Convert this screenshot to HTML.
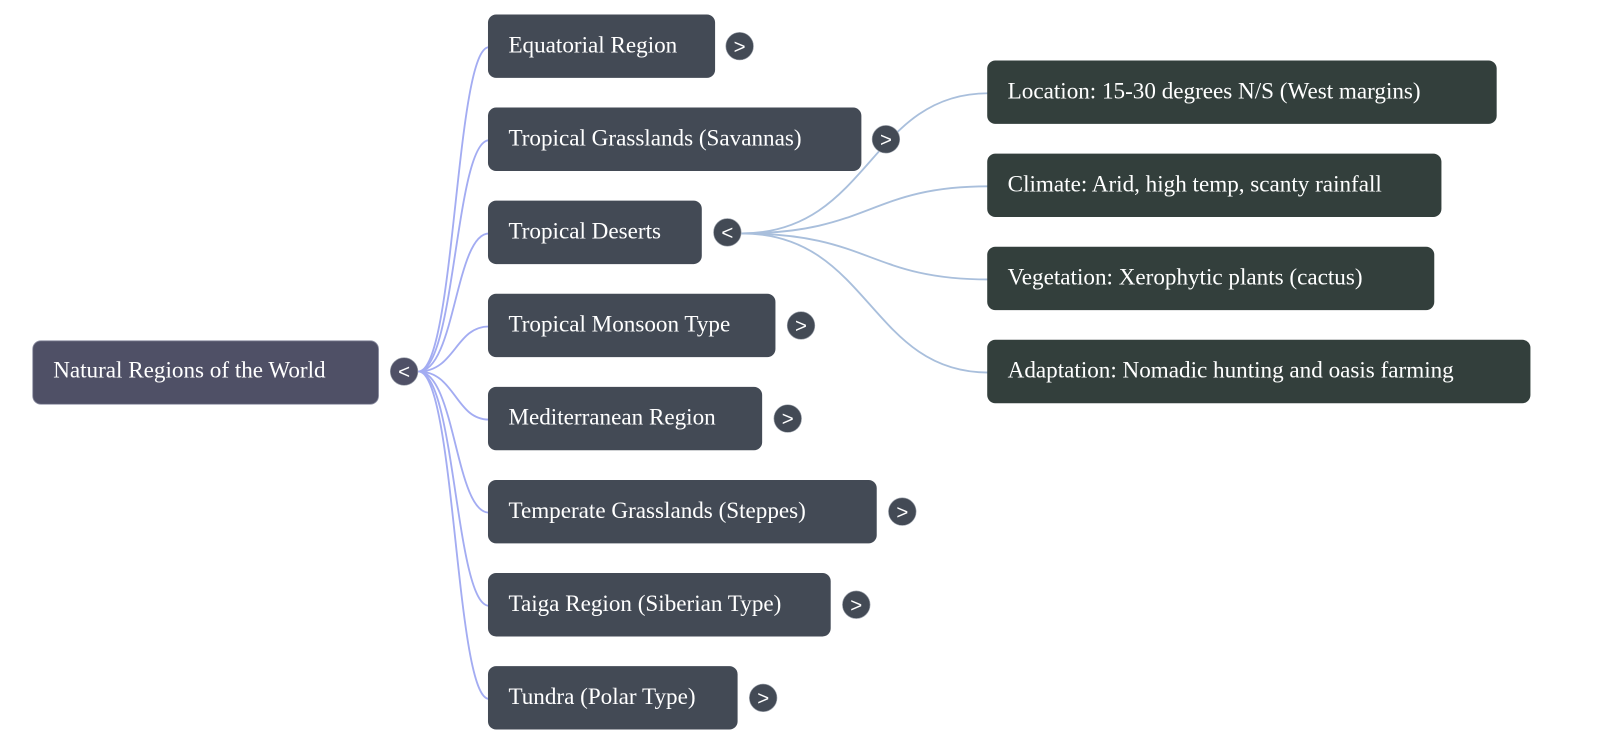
<!DOCTYPE html>
<html><head><meta charset="utf-8"><style>
html,body{margin:0;padding:0;background:#fff;}
svg{display:block}
text{font-family:"Liberation Serif","Times New Roman",serif;font-size:22.6px;fill:#fff}
.t{font-family:"Liberation Sans",sans-serif;font-size:20px;text-anchor:middle}
</style></head><body>
<svg width="1600" height="743" viewBox="0 0 1564 726" xmlns="http://www.w3.org/2000/svg">
<g fill="none" stroke="#a3acf2" stroke-width="1.8">
<path d="M409 363 C445 363 445 46 478 46"/>
<path d="M409 363 C445 363 445 137 478 137"/>
<path d="M409 363 C445 363 445 228 478 228"/>
<path d="M409 363 C445 363 445 319 478 319"/>
<path d="M409 363 C445 363 445 410 478 410"/>
<path d="M409 363 C445 363 445 501 478 501"/>
<path d="M409 363 C445 363 445 592 478 592"/>
<path d="M409 363 C445 363 445 683 478 683"/>
</g>
<g fill="none" stroke="#a9bfdc" stroke-width="1.8">
<path d="M725 228 C850 228 850 91 966 91"/>
<path d="M725 228 C850 228 850 182 966 182"/>
<path d="M725 228 C850 228 850 273 966 273"/>
<path d="M725 228 C850 228 850 364 966 364"/>
</g>
<rect x="32" y="333" width="338" height="62" rx="8" fill="#4f5066" stroke="#8a8ca0" stroke-width="0.8"/>
<text x="52" y="369">Natural Regions of the World</text>
<g fill="#434a55">
<rect x="477" y="14" width="222" height="62" rx="8"/>
<rect x="477" y="105" width="365" height="62" rx="8"/>
<rect x="477" y="196" width="209" height="62" rx="8"/>
<rect x="477" y="287" width="281" height="62" rx="8"/>
<rect x="477" y="378" width="268" height="62" rx="8"/>
<rect x="477" y="469" width="380" height="62" rx="8"/>
<rect x="477" y="560" width="335" height="62" rx="8"/>
<rect x="477" y="651" width="244" height="62" rx="8"/>
</g>
<text x="497" y="51">Equatorial Region</text>
<text x="497" y="142">Tropical Grasslands (Savannas)</text>
<text x="497" y="233">Tropical Deserts</text>
<text x="497" y="324">Tropical Monsoon Type</text>
<text x="497" y="415">Mediterranean Region</text>
<text x="497" y="506">Temperate Grasslands (Steppes)</text>
<text x="497" y="597">Taiga Region (Siberian Type)</text>
<text x="497" y="688">Tundra (Polar Type)</text>
<g fill="#333f3c">
<rect x="965" y="59" width="498" height="62" rx="8"/>
<rect x="965" y="150" width="444" height="62" rx="8"/>
<rect x="965" y="241" width="437" height="62" rx="8"/>
<rect x="965" y="332" width="531" height="62" rx="8"/>
</g>
<text x="985" y="96">Location: 15-30 degrees N/S (West margins)</text>
<text x="985" y="187">Climate: Arid, high temp, scanty rainfall</text>
<text x="985" y="278">Vegetation: Xerophytic plants (cactus)</text>
<text x="985" y="369">Adaptation: Nomadic hunting and oasis farming</text>
<g fill="#434a55" stroke="#9aa0aa" stroke-width="0.6">
<circle cx="395" cy="363" r="13.5" fill="#4f5066"/>
<circle cx="723" cy="45" r="13.5"/>
<circle cx="866" cy="136" r="13.5"/>
<circle cx="711" cy="227" r="13.5"/>
<circle cx="783" cy="318" r="13.5"/>
<circle cx="770" cy="409" r="13.5"/>
<circle cx="882" cy="500" r="13.5"/>
<circle cx="837" cy="591" r="13.5"/>
<circle cx="746" cy="682" r="13.5"/>
</g>
<text class="t" x="395" y="370">&lt;</text>
<text class="t" x="723" y="52">&gt;</text>
<text class="t" x="866" y="143">&gt;</text>
<text class="t" x="711" y="234">&lt;</text>
<text class="t" x="783" y="325">&gt;</text>
<text class="t" x="770" y="416">&gt;</text>
<text class="t" x="882" y="507">&gt;</text>
<text class="t" x="837" y="598">&gt;</text>
<text class="t" x="746" y="689">&gt;</text>
</svg>
</body></html>
